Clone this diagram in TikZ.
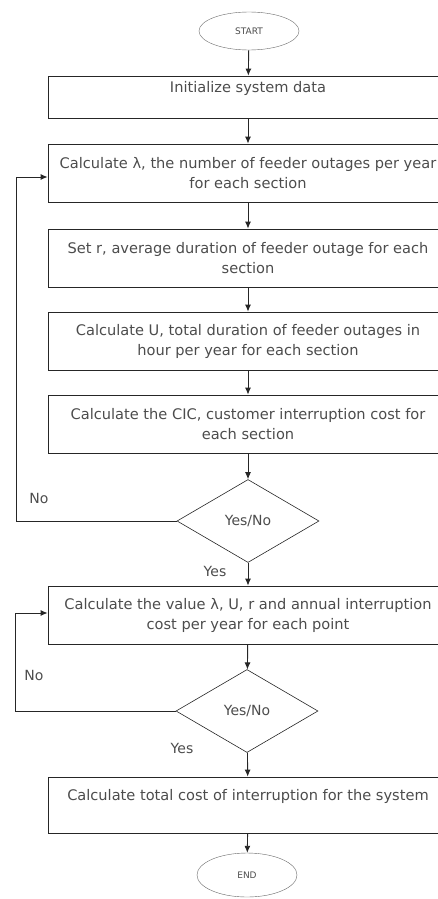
\documentclass[tikz,border=0pt]{standalone}
\usepackage{fontspec}
\setmainfont{DejaVu Sans}
\usepackage{tikz}
\usetikzlibrary{arrows.meta}
\usetikzlibrary{shapes.geometric}
\colorlet{lines}{black!85}
\colorlet{txt}{black!70}
\tikzset{
  procbox/.style={draw=lines, line width=0.8pt, rectangle, minimum width=400pt, minimum height=58pt,
    inner sep=0pt, align=center, text=txt, font=\fontsize{14.6}{20}\selectfont},
  termbox/.style={draw=lines!70, ellipse, minimum width=100pt, minimum height=38pt,
    inner sep=0pt, text=txt, font=\fontsize{9}{11}\selectfont},
  decbox/.style={draw=lines, line width=0.6pt, diamond, minimum width=142pt, minimum height=83pt,
    inner sep=0pt, text=txt, font=\fontsize{14}{16}\selectfont},
  flow/.style={draw=lines, line width=0.9pt, -{Latex[length=7pt,width=6pt]}},
  lbl/.style={text=txt, font=\fontsize{14}{16}\selectfont}
}

\begin{document}
\begin{tikzpicture}[x=1pt, y=-1pt]
  \useasboundingbox (0,0) rectangle (438,899);

  % ---------- Terminals ----------
  \node[termbox] at (249,31) (start) {START};
  \node[termbox, minimum height=44pt] at (247,875) (stop) {END};

  % ---------- Steps ----------
  \node[procbox, minimum height=42pt] at (248,97) (init) {Initialize system data\\\mbox{}};
  \node[procbox] at (248,173) (lambda) {Calculate λ, the number of feeder outages per year\\for each section};
  \node[procbox] at (248,258) (setr) {Set r, average duration of feeder outage for each\\section};
  \node[procbox] at (248,341) (calcu) {Calculate U, total duration of feeder outages in\\hour per year for each section};
  \node[procbox] at (248,424) (cic) {Calculate the CIC, customer interruption cost for\\each section};
  \node[decbox] at (248,521) (check1) {Yes/No};
  \node[procbox] at (248,615) (value) {Calculate the value λ, U, r and annual interruption\\cost per year for each point};
  \node[decbox] at (247,711) (check2) {Yes/No};
  \node[procbox, minimum height=56pt] at (248,805) (total) {Calculate total cost of interruption for the system\\\mbox{}};

  % ---------- Labels ----------
  \node[lbl] at (39,498) (no1) {No};
  \node[lbl] at (215,571) (yes1) {Yes};
  \node[lbl] at (34,675) (no2) {No};
  \node[lbl] at (182,748) (yes2) {Yes};

  % ---------- Arrows ----------
  \coordinate (loop1) at (16,177);
  \coordinate (loop2) at (15,613);
  \draw[flow] (start) -- (init);
  \draw[flow] (init) -- (lambda);
  \draw[flow] (lambda) -- (setr);
  \draw[flow] (setr) -- (calcu);
  \draw[flow] (calcu) -- (cic);
  \draw[flow] (cic) -- (check1);
  \draw[flow] (check1) -- (value);
  \draw[flow] (value) -- (check2);
  \draw[flow] (check2) -- (total);
  \draw[flow] (total) -- (stop);
  \draw[flow] (check1.west) -| (loop1) -- (loop1 -| lambda.west);
  \draw[flow] (check2.west) -| (loop2) -- (loop2 -| value.west);
\end{tikzpicture}
\end{document}
